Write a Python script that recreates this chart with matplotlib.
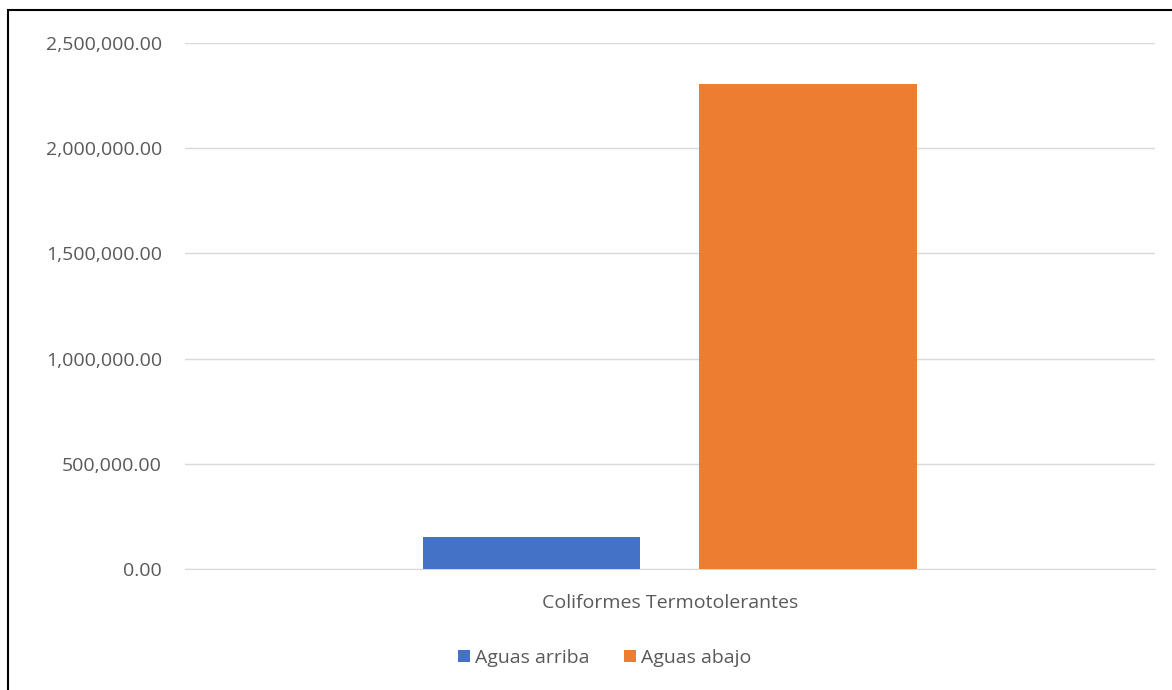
import matplotlib.pyplot as plt
from matplotlib.patches import Rectangle
from matplotlib.ticker import FuncFormatter

# data
category = ["Coliformes Termotolerantes"]
series = ["Aguas arriba", "Aguas abajo"]
arriba = [152000]
abajo = [2305000]
colors = ["#4472c4", "#ed7d31"]

plt.rcParams['font.family'] = ['Open Sans', 'DejaVu Sans']

fig = plt.figure(figsize=(11.72, 6.9), dpi=100)
ax = fig.add_axes([0.1578, 0.1754, 0.8276, 0.7623])

w = 0.224
off = 0.1425
ax.bar([-off], arriba, width=w, color=colors[0], label=series[0], zorder=3)
ax.bar([off], abajo, width=w, color=colors[1], label=series[1], zorder=3)

ax.set_xlim(-0.5, 0.5)
ax.set_ylim(0, 2500000)
ax.set_yticks(range(0, 2500001, 500000))
ax.yaxis.set_major_formatter(FuncFormatter(lambda v, p: f"{v:,.2f}"))
ax.set_xticks([0])
ax.set_xticklabels(category)
ax.grid(axis='y', color='#d9d9d9', linewidth=1, zorder=0)
for s in ['top', 'right', 'left']:
    ax.spines[s].set_visible(False)
ax.spines['bottom'].set_color('#d9d9d9')
ax.tick_params(axis='both', length=0, colors='#595959', labelsize=14)
ax.tick_params(axis='y', pad=16.5)
ax.tick_params(axis='x', pad=18)

leg = fig.legend(loc='center', bbox_to_anchor=(0.516, 0.047), ncol=2, frameon=False,
                 fontsize=14, handlelength=0.6, handleheight=0.6, handletextpad=0.25,
                 columnspacing=1.8)
for t in leg.get_texts():
    t.set_color('#595959')

# outer frame
fig.patches.append(Rectangle((8 / 1172, -0.01), 1.0, 1 - 10 / 690 + 0.01, transform=fig.transFigure,
                             fill=False, edgecolor='black', linewidth=1.5))

fig.savefig("out.png", dpi=100)
